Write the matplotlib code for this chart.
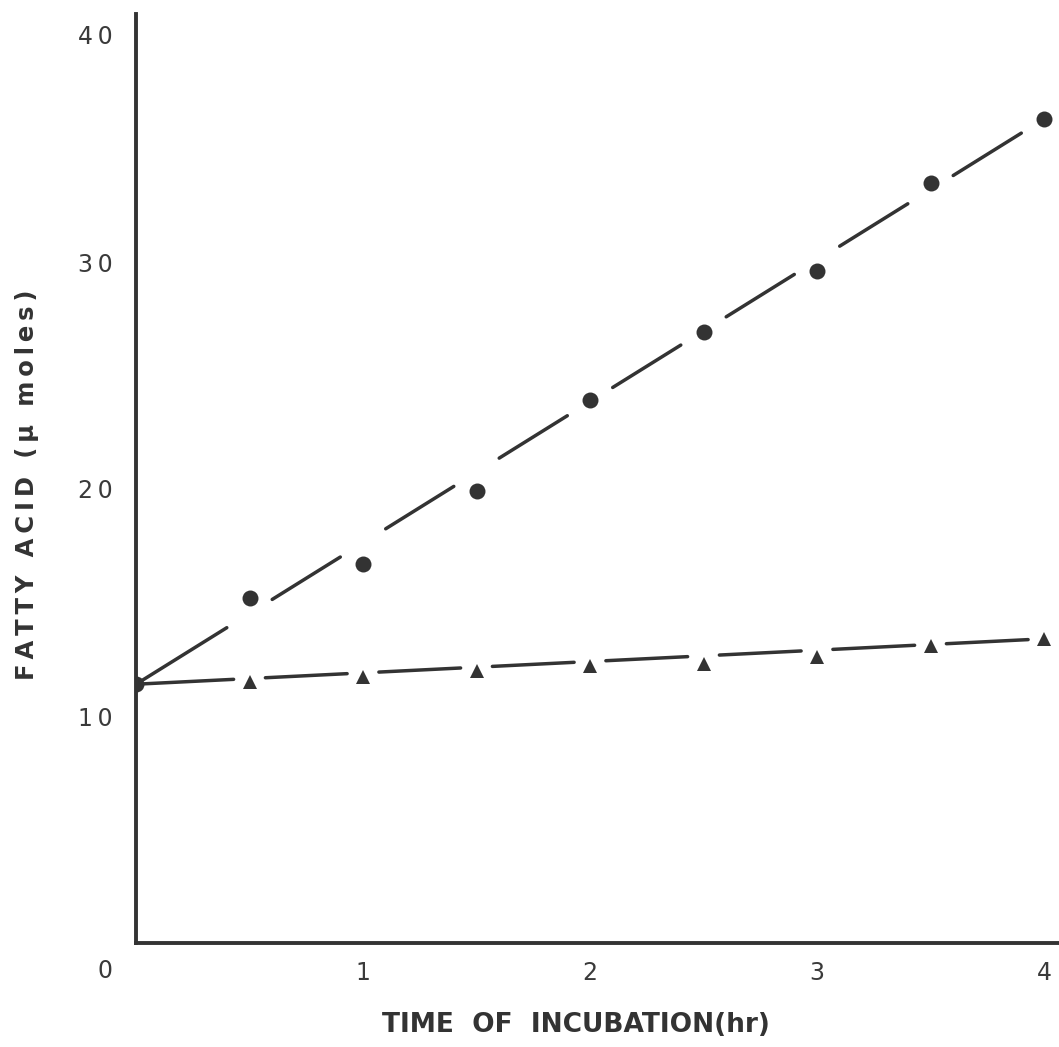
import matplotlib.pyplot as plt
import numpy as np

# readings
hours = [0, 0.5, 1, 1.5, 2, 2.5, 3, 3.5, 4]
acid_circles = [11.4, 15.2, 16.7, 19.9, 23.9, 26.9, 29.6, 33.5, 36.3]
acid_triangles = [11.4, 11.5, 11.7, 12.0, 12.2, 12.3, 12.6, 13.1, 13.4]

x_ticks = [1, 2, 3, 4]
y_ticks = [10, 20, 30, 40]

ink = '#333333'
W, H = 1059, 1047

fig = plt.figure(figsize=(W / 100, H / 100), dpi=100)
ax = fig.add_axes([136 / W, 104 / H, 923 / W, 929 / H])
ax.set_xlim(0, 923 / 227)
ax.set_ylim(0, 929 / 22.7)


def broken_trend(x, y, gap):
    # straight line from first to last reading, broken at each marker
    x = np.asarray(x, float)
    y = np.asarray(y, float)
    slope = (y[-1] - y[0]) / (x[-1] - x[0])
    for i in range(len(x) - 1):
        xs = np.array([x[i] + (gap if i > 0 else 0), x[i + 1] - gap])
        ax.plot(xs, y[0] + slope * (xs - x[0]), color=ink, lw=2.5,
                solid_capstyle='round', zorder=2)


broken_trend(hours, acid_circles, 0.1)
broken_trend(hours, acid_triangles, 0.07)

ax.plot(hours, acid_circles, 'o', color=ink, ms=11.5, mew=0, zorder=3)
ax.plot(hours[1:], acid_triangles[1:], '^', color=ink, ms=10.5, mew=0, zorder=3)

for s in ['top', 'right']:
    ax.spines[s].set_visible(False)
for s in ['left', 'bottom']:
    ax.spines[s].set_linewidth(2.8)
    ax.spines[s].set_color(ink)

ax.set_xticks(x_ticks)
ax.set_yticks(y_ticks)
ax.set_xticklabels([str(t) for t in x_ticks])
ax.set_yticklabels(['\u2009'.join(str(t)) for t in y_ticks])
ax.tick_params(axis='x', length=0, pad=13, labelsize=17, labelcolor='#3a3a3a')
ax.tick_params(axis='y', length=0, pad=17, labelsize=17, labelcolor='#3a3a3a')
ax.annotate('0', xy=(0, 0), xytext=(-22, -20), textcoords='offset points',
            ha='center', va='center', fontsize=17, color='#3a3a3a',
            annotation_clip=False)

fig.text(576 / W, 1 - 1025 / H, 'TIME  OF  INCUBATION(hr)', ha='center',
         va='center', fontsize=19, fontweight='bold', color=ink)
ylab = '\u2009'.join('FATTY ACID (\u03bc moles)')
fig.text(27 / W, 1 - 485 / H, ylab, ha='center',
         va='center', rotation=90, fontsize=17.5, fontweight='bold', color=ink)

fig.savefig('out.png', dpi=100)
